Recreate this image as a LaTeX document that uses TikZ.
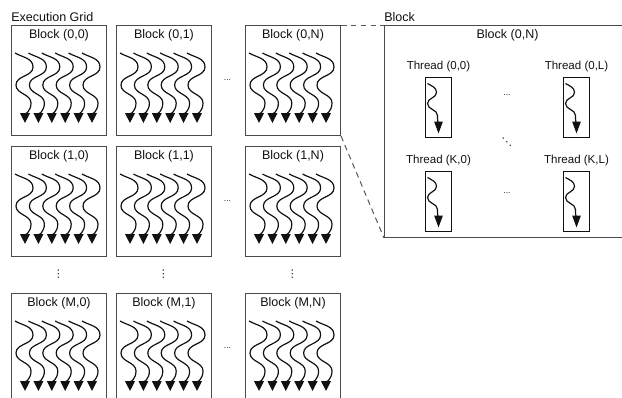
\documentclass[tikz,border=0pt]{standalone}
\usepackage{fontspec}
\setmainfont{Liberation Sans}
\newfontfamily\dotsfont{DejaVu Sans}
\usetikzlibrary{arrows.meta, positioning}
\definecolor{boxgray}{HTML}{4A4A4A}
\definecolor{inkblack}{HTML}{111111}
\definecolor{dashgray}{HTML}{555555}

\begin{document}
\begin{tikzpicture}[x=0.025cm, y=-0.025cm,
  blockbox/.style={draw=boxgray, line width=0.7pt, minimum width=2.375cm, minimum height=2.75cm, inner sep=0pt},
  threadbox/.style={draw=inkblack, line width=0.7pt, minimum width=0.65cm, minimum height=1.5cm, inner sep=0pt},
  blocklabel/.style={font=\fontsize{8.9}{10}\selectfont, text=inkblack, inner sep=0pt},
  threadlabel/.style={font=\fontsize{8.2}{9}\selectfont, text=inkblack, inner sep=0pt},
  dotmark/.style={font=\fontsize{6}{7}\selectfont, text=inkblack, inner sep=0pt},
  symmark/.style={font=\dotsfont\fontsize{7.5}{8}\selectfont, text=inkblack, inner sep=0pt},
  wave/.style={inkblack, line width=0.85pt, -{Triangle[length=7pt, width=6.8pt]}},
  threadwave/.style={inkblack, line width=0.85pt, -{Triangle[length=8.5pt, width=6pt]}}]

% Canvas (pixel units, y downwards)
\useasboundingbox (0,0) rectangle (622,397);
\clip (0,0) rectangle (622,397);

% Grid of blocks
\foreach \r/\ry/\rl in {0/25/0, 1/146/1, 2/293/M} {
  \foreach \c/\cx/\cl in {0/11/0, 1/116/1, 2/245/N} {
    \node[blockbox, anchor=north west] (b\r\c) at (\cx,\ry) {};
    \node[blocklabel, below=3pt of b\r\c.north] (lb\r\c) {Block (\rl,\cl)};
    % six threads per block
    \foreach \i [evaluate=\i as \ax using 14+13.4*\i] in {0,...,5} {
      \draw[wave, shift={(\cx,\ry)}] ({\ax-10},28) to[out=-30,in=90] ({\ax+8},42)
        to[out=-90,in=90] ({\ax-9},60) to[out=-90,in=90] ({\ax+6},78)
        to[out=-90,in=90] (\ax,98);
    }
  }
}

\node[blocklabel, anchor=south west] (gridlbl) at ([yshift=2pt]b00.north west) {Execution Grid};

% Dots between blocks
\foreach \y/\n in {80/0, 201/1, 348/2}
  \node[dotmark] (hd\n) at (227.5,\y) {...};
\foreach \x/\n in {58.5/0, 163.5/1, 292.5/2}
  \node[symmark] (vd\n) at (\x,274) {⋮};

% Zoomed block
\node[draw=boxgray, line width=0.7pt, anchor=north west, minimum width=6.15cm, minimum height=5.3cm, inner sep=0pt] (panel) at (384,25) {};
\node[blocklabel, anchor=south west] (panellbl) at ([yshift=2pt]panel.north west) {Block};
\node[blocklabel, below=3pt of panel.north] (paneltitle) {Block (0,N)};

\draw[dashgray, line width=0.7pt, dash pattern=on 4pt off 3pt] (b02.north east) -- (panel.north west);
\draw[dashgray, line width=0.7pt, dash pattern=on 4pt off 3pt] (b02.south east) -- (panel.south west);

% Threads in the zoomed block
\foreach \k/\ty/\kl in {0/107/0, 1/201/K} {
  \foreach \l/\tx/\ll in {0/438.5/0, 1/576.5/L} {
    \node[threadbox] (th\k\l) at (\tx,\ty) {};
    \node[threadlabel, above=3pt of th\k\l] (tl\k\l) {Thread (\kl,\ll)};
    \draw[threadwave, shift={(th\k\l.north)}] (-11,7) to[out=-30,in=90] (-2,16)
      to[out=-90,in=90] (-11,27) to[out=-90,in=90] (-1,39)
      to[out=-90,in=90] (0,57);
  }
}

\node[dotmark] (td0) at (507,95) {...};
\node[dotmark] (td1) at (507,193) {...};
\node[symmark] (tdd) at (507,142) {⋱};

\end{tikzpicture}
\end{document}
